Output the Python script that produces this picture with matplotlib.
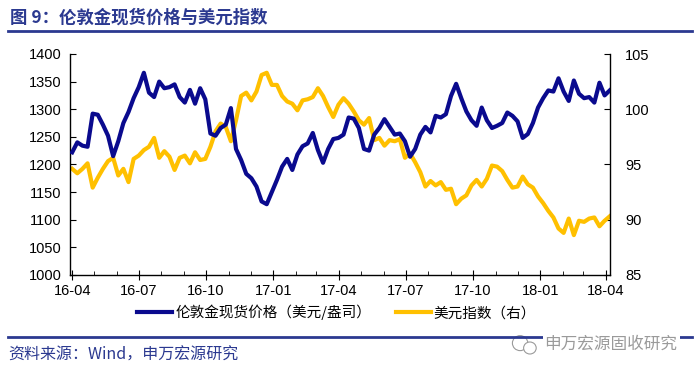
import matplotlib
matplotlib.use("Agg")
import matplotlib.pyplot as plt
import matplotlib.dates as mdates
from matplotlib.lines import Line2D
from matplotlib.patches import Ellipse
import pandas as pd

# ---------------- data ----------------
start_date = "2016-04-01"
n_weeks = 106
gold = [1222, 1240, 1234, 1232, 1292, 1290, 1272, 1252, 1215, 1242,
        1275, 1295, 1320, 1340, 1366, 1330, 1322, 1350, 1338, 1340,
        1345, 1322, 1312, 1335, 1310, 1338, 1318, 1256, 1252, 1266,
        1272, 1302, 1228, 1208, 1183, 1175, 1160, 1133, 1128, 1150,
        1172, 1196, 1210, 1190, 1218, 1233, 1238, 1257, 1226, 1203,
        1228, 1246, 1248, 1254, 1285, 1283, 1266, 1228, 1225, 1254,
        1266, 1282, 1268, 1254, 1256, 1242, 1214, 1228, 1254, 1268,
        1258, 1288, 1285, 1291, 1324, 1346, 1320, 1296, 1280, 1270,
        1303, 1280, 1266, 1270, 1275, 1294, 1288, 1278, 1248, 1255,
        1275, 1303, 1320, 1334, 1332, 1356, 1332, 1315, 1352, 1328,
        1320, 1322, 1312, 1348, 1325, 1334]
usd = [94.6, 94.2, 94.6, 95.1, 92.9, 93.8, 94.6, 95.3, 95.6, 94.0,
       94.6, 93.4, 95.5, 95.8, 96.3, 96.6, 97.4, 95.6, 96.2, 95.7,
       94.5, 95.6, 95.8, 95.1, 96.1, 95.4, 95.5, 96.6, 98.0, 98.7,
       98.4, 97.1, 99.0, 101.2, 101.5, 100.8, 101.6, 103.1, 103.3, 102.2,
       102.2, 101.2, 100.7, 100.5, 99.9, 100.8, 100.9, 101.1, 101.9, 101.2,
       100.2, 99.3, 100.4, 101.0, 100.5, 99.8, 99.0, 98.6, 99.2, 97.2,
       97.4, 96.7, 97.2, 97.1, 97.3, 95.6, 96.0, 95.2, 94.3, 93.0,
       93.5, 93.1, 93.4, 92.7, 92.8, 91.4, 91.9, 92.2, 93.1, 93.6,
       93.0, 93.7, 94.9, 94.8, 94.4, 93.6, 92.9, 93.0, 93.9, 93.2,
       92.9, 92.1, 91.5, 90.8, 90.2, 89.2, 88.8, 90.1, 88.6, 89.9,
       89.8, 90.1, 90.2, 89.4, 89.9, 90.3]
dates = pd.date_range(start_date, periods=n_weeks, freq="7D")

title_text = "图 9：伦敦金现货价格与美元指数"
source_text = "资料来源：Wind，申万宏源研究"
watermark_text = "申万宏源固收研究"
gold_label = "伦敦金现货价格（美元/盎司）"
usd_label = "美元指数（右）"
left_ticks = list(range(1000, 1401, 50))
right_ticks = list(range(85, 106, 5))

# ---------------- style ----------------
plt.rcParams['font.family'] = ['Liberation Sans', 'Noto Sans CJK SC', 'DejaVu Sans']
NAVY = "#0a0a8e"
GOLD = "#ffc000"
TITLE_BLUE = "#2b3990"
CJK = ['Noto Sans CJK SC', 'DejaVu Sans']

fig = plt.figure(figsize=(7, 3.75), dpi=100)
ax = fig.add_axes([0.1, 0.267, 0.771, 0.589])
ax2 = ax.twinx()

ax.plot(dates, gold, color=NAVY, lw=3.0, solid_joinstyle='round', zorder=3)
ax2.plot(dates, usd, color=GOLD, lw=3.0, solid_joinstyle='round', zorder=2)
ax.set_zorder(ax2.get_zorder() + 1)
ax.patch.set_visible(False)

ax.set_ylim(1000, 1400)
ax.set_yticks(left_ticks)
ax2.set_ylim(85, 105)
ax2.set_yticks(right_ticks)
ax.set_xlim(pd.Timestamp("2016-03-29"), pd.Timestamp("2018-04-06"))

ax.xaxis.set_major_locator(mdates.MonthLocator(bymonth=[1, 4, 7, 10]))
ax.xaxis.set_minor_locator(mdates.MonthLocator())
ax.xaxis.set_major_formatter(mdates.DateFormatter('%y-%m'))

for a in (ax, ax2):
    a.spines['top'].set_visible(False)
    for s in a.spines.values():
        s.set_linewidth(1.0)
        s.set_color('black')
ax.spines['right'].set_visible(False)
ax2.spines['left'].set_visible(False)
ax2.spines['bottom'].set_visible(False)

ax.tick_params(axis='y', direction='in', length=4, labelsize=10.5, pad=6, colors='black')
ax2.tick_params(axis='y', direction='in', length=4, labelsize=10.5, pad=11, colors='black')
ax.tick_params(axis='x', which='major', direction='inout', length=7, labelsize=10.5, pad=3)
ax.tick_params(axis='x', which='minor', direction='in', length=3)

# legend
handles = [Line2D([], [], color=NAVY, lw=3.0), Line2D([], [], color=GOLD, lw=3.0)]
fig.legend(handles, [gold_label, usd_label], loc='center', bbox_to_anchor=(0.481, 0.167),
           ncol=2, frameon=False, handlelength=2.4, handletextpad=0.2,
           columnspacing=1.7, prop={'family': CJK, 'size': 10.5})

# title
fig.text(0.014, 0.952, title_text, fontsize=12.5, fontweight='bold', color=TITLE_BLUE,
         family=CJK, va='center', ha='left')
fig.add_artist(Line2D([0.012, 0.988], [0.918, 0.918], color=TITLE_BLUE, lw=2.0))

# footer
fig.add_artist(Line2D([0.012, 0.988], [0.101, 0.101], color=TITLE_BLUE, lw=2.0))
fig.text(0.778, 0.083, watermark_text, fontsize=12, color='#9a9a9a',
         family=CJK, va='center', ha='left',
         bbox=dict(facecolor='white', edgecolor='none', pad=1.5))
fig.text(0.012, 0.052, source_text, fontsize=11.5, color=TITLE_BLUE,
         family=CJK, va='center', ha='left')
# small wechat-like icon
fig.add_artist(Ellipse((0.743, 0.085), 0.022, 0.04, facecolor='white',
                       edgecolor='#9a9a9a', lw=0.8))
fig.add_artist(Ellipse((0.757, 0.072), 0.018, 0.032, facecolor='white',
                       edgecolor='#9a9a9a', lw=0.8))

fig.savefig("out.png", dpi=100)
